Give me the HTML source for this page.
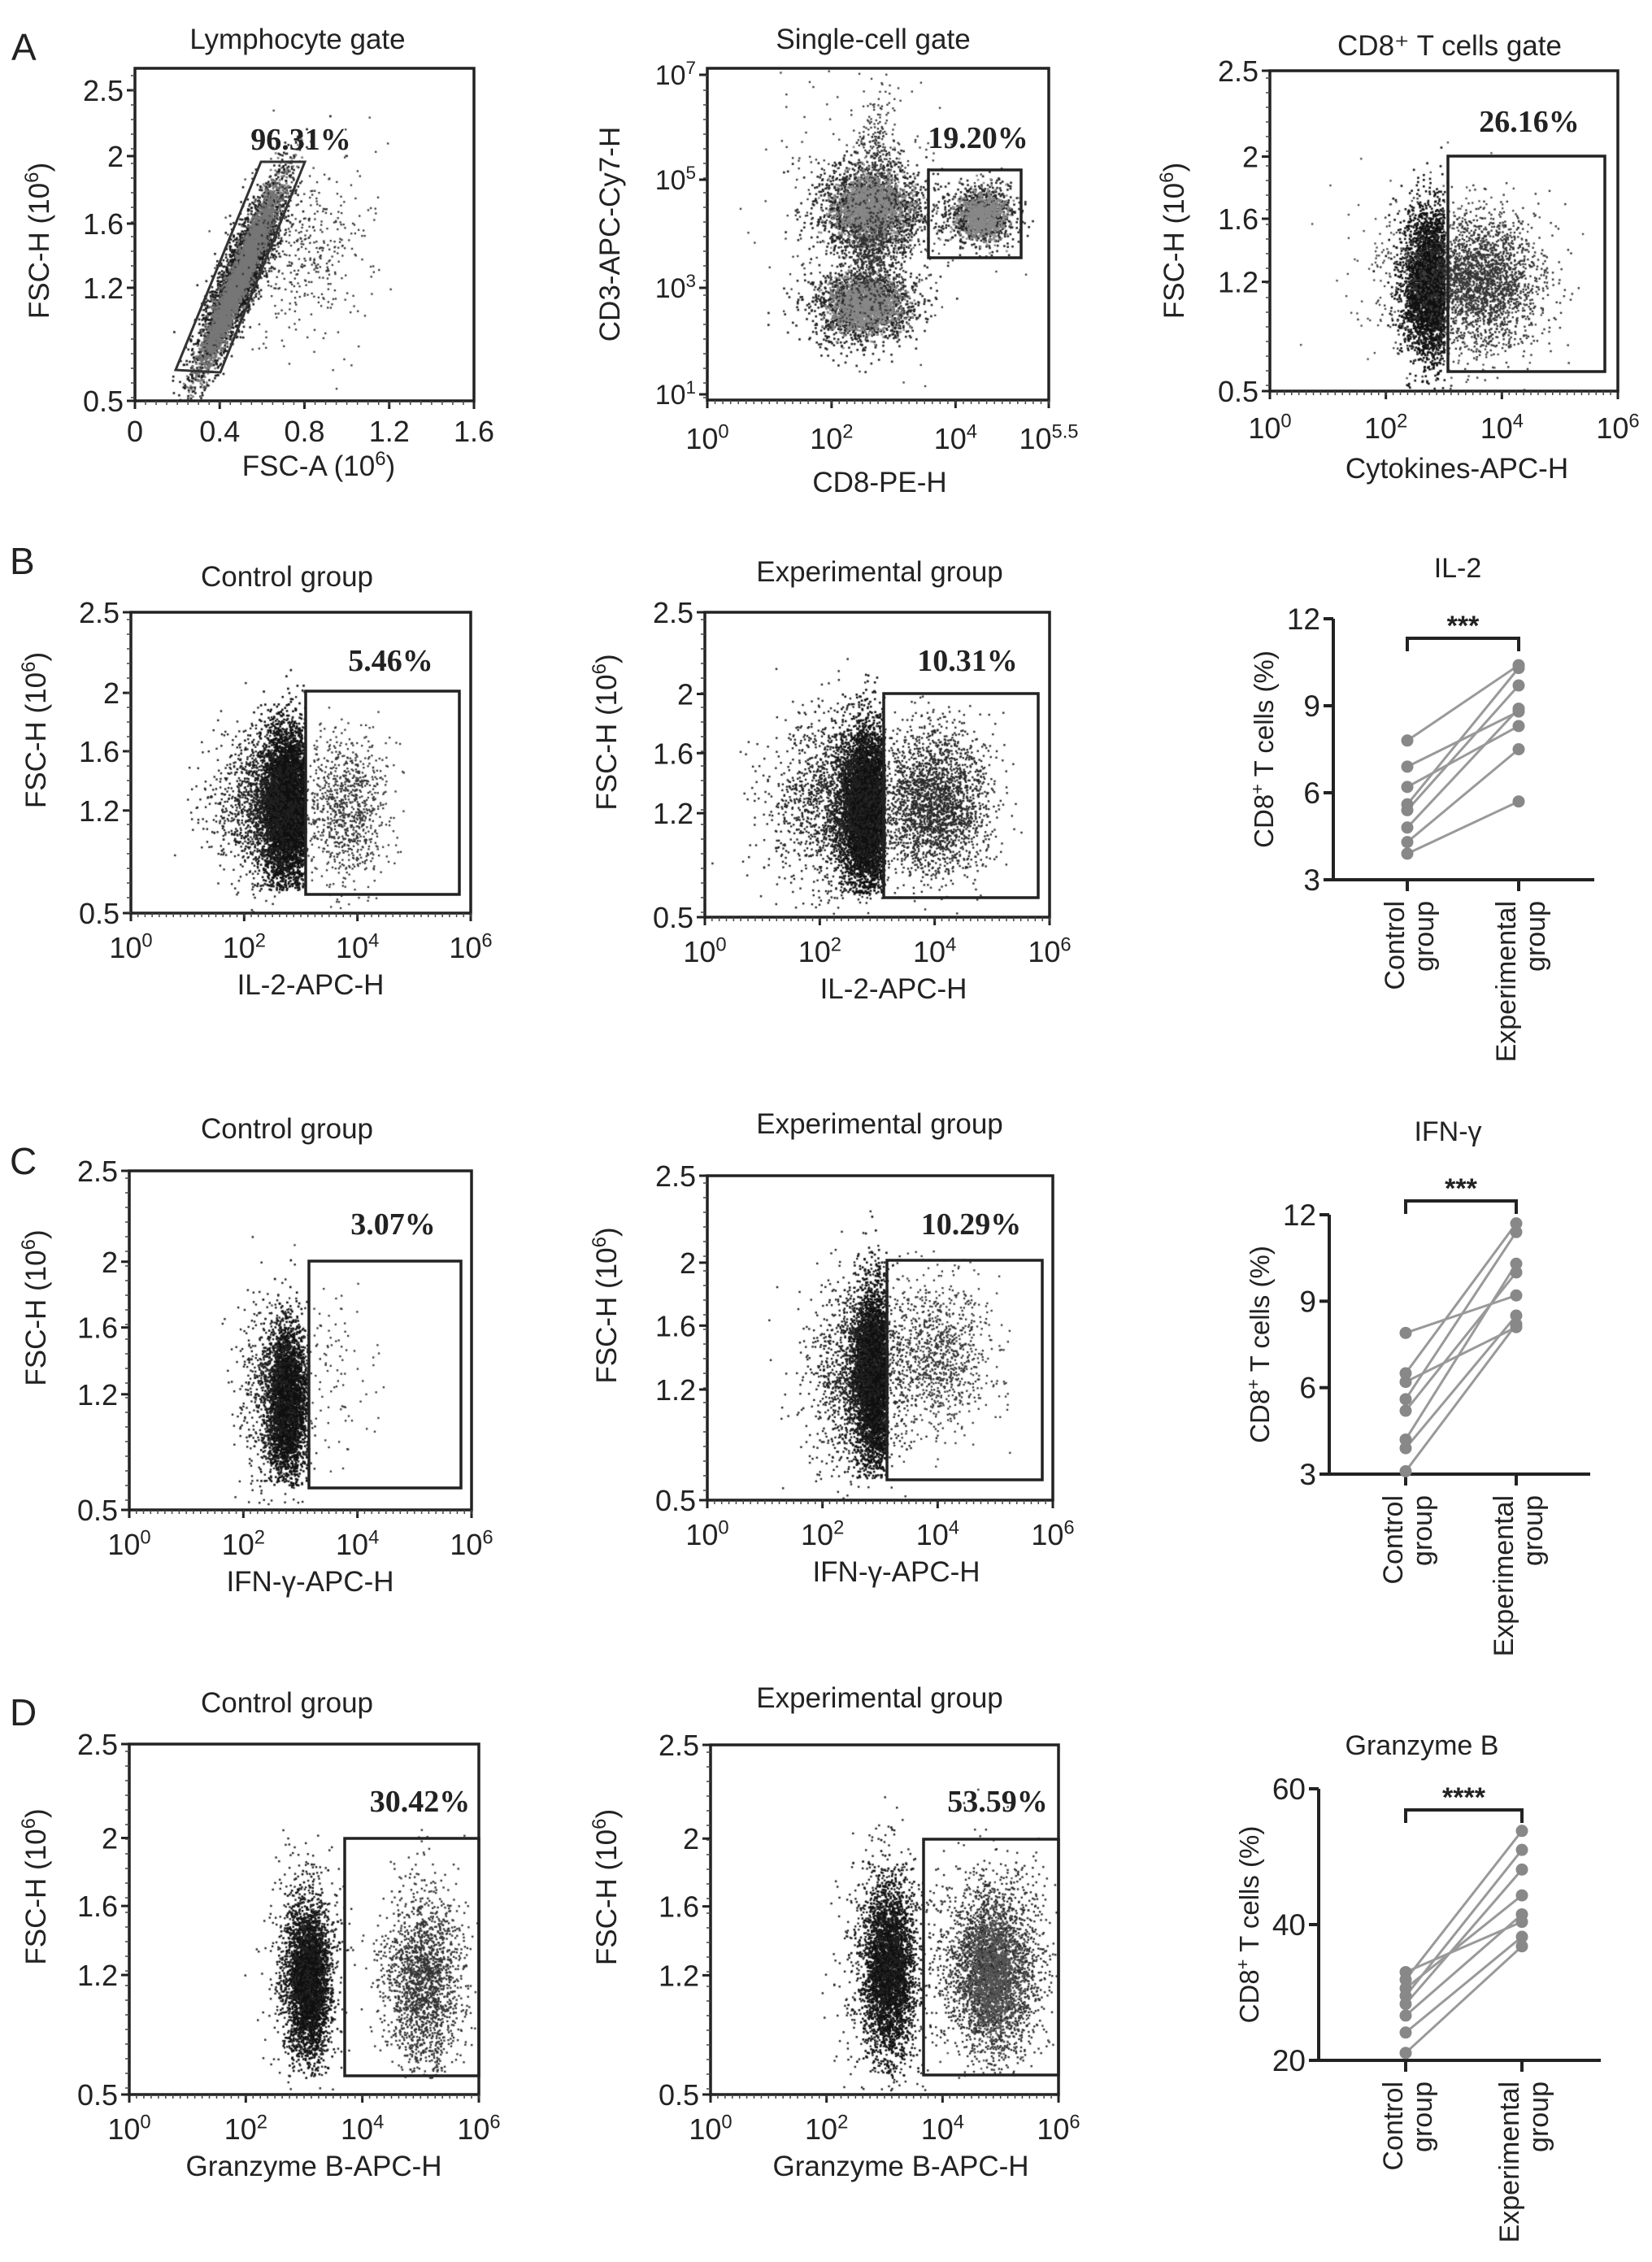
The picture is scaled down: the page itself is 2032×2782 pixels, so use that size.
<!DOCTYPE html>
<html><head><meta charset="utf-8"><style>
html,body{margin:0;padding:0;background:#fff;}
#wrap{position:relative;width:2032px;height:2782px;overflow:hidden;}
canvas,svg{position:absolute;left:0;top:0;}
text{font-family:"Liberation Sans",sans-serif;fill:#222;}
.pct{font-family:"Liberation Serif",serif;font-weight:bold;font-size:38px;fill:#222;}
</style></head><body>
<div id="wrap">
<canvas id="cv" width="2032" height="2782"></canvas>
<svg id="sv" width="2032" height="2782" viewBox="0 0 2032 2782" xmlns="http://www.w3.org/2000/svg"></svg>
</div>
<script>
// ---- paired chart data (control vs experimental, % CD8+ T cells) ----
const il2Control = [7.8, 6.9, 6.2, 5.6, 5.4, 4.8, 4.3, 3.9];
const il2Experimental = [10.4, 8.8, 8.3, 10.3, 9.7, 8.9, 7.5, 5.7];
const ifnControl = [7.9, 6.5, 6.2, 5.6, 5.2, 4.2, 3.9, 3.1];
const ifnExperimental = [9.2, 11.7, 8.1, 11.4, 10.0, 10.3, 8.5, 8.2];
const gzbControl = [33.0, 31.9, 30.6, 29.5, 28.3, 26.6, 24.1, 21.1];
const gzbExperimental = [40.4, 53.8, 44.3, 51.0, 48.1, 41.5, 38.2, 36.8];
const il2Ticks = [3, 6, 9, 12];
const ifnTicks = [3, 6, 9, 12];
const gzbTicks = [20, 40, 60];
const groupLabels = ["Control group", "Experimental group"];
const fscTickLabels = ["2.5", "2", "1.6", "1.2", "0.5"];
const fscTickValues = [2.5, 2.0, 1.6, 1.2, 0.5];
const logTickExps = ["0", "2", "4", "6"];
const pctLabels = ["96.31%", "19.20%", "26.16%", "5.46%", "10.31%", "3.07%", "10.29%", "30.42%", "53.59%"];

const NS = "http://www.w3.org/2000/svg";
const svg = document.getElementById('sv');
const ctx = document.getElementById('cv').getContext('2d');
function el(tag, attrs, parent, txt){
  const e = document.createElementNS(NS, tag);
  for (const k in attrs) e.setAttribute(k, attrs[k]);
  if (txt !== undefined) e.textContent = txt;
  (parent || svg).appendChild(e);
  return e;
}
let seed = 12345;
function rnd(){ seed = (seed * 1664525 + 1013904223) % 4294967296; return seed / 4294967296; }
function gauss(){ let u = 0, v = 0; while(!u) u = rnd(); v = rnd(); return Math.sqrt(-2*Math.log(u))*Math.cos(2*Math.PI*v); }

const fscFrac = [0, 0.268, 0.462, 0.659, 1];
function fscY(v, box){
  for (let i = 0; i < fscTickValues.length - 1; i++){
    const a = fscTickValues[i], b = fscTickValues[i+1];
    if (v <= a && v >= b){ const f = fscFrac[i] + (a - v)/(a - b)*(fscFrac[i+1]-fscFrac[i]); return box.y0 + f*(box.y1-box.y0); }
  }
  return box.y1;
}

function supText(g, x, y, base, exp, anchor, size, name){
  const t = el('text', {x:x, y:y, 'text-anchor':anchor, 'font-size':size}, g);
  
  
  el('tspan', {}, t, base);
  el('tspan', {dy: -size*0.38, 'font-size': size*0.66}, t, exp);
  return t;
}

function flowPanel(c){
  const g = el('g', {});
  
  
  const b = c.box;
  ctx.save();
  ctx.beginPath(); ctx.rect(b.x0, b.y0, b.x1-b.x0, b.y1-b.y0); ctx.clip();
  c.blobs.forEach(bl => {
    const [cx, cy, sx, sy, n, col, sz, rot, xmax, ymax] = bl;
    ctx.fillStyle = col;
    const r = rot || 0;
    let drawn = 0, guard = 0;
    while (drawn < n && guard < n*6){
      guard++;
      let dx = gauss()*sx, dy = gauss()*sy;
      const X = cx + dx*Math.cos(r) - dy*Math.sin(r);
      const Y = cy + dx*Math.sin(r) + dy*Math.cos(r);
      if (xmax !== undefined && X > xmax) continue;
      if (ymax !== undefined && Y > ymax) continue;
      drawn++;
      const px = b.x0 + X*(b.x1-b.x0), py = b.y0 + Y*(b.y1-b.y0);
      ctx.fillRect(px, py, sz||2.6, sz||2.6);
    }
  });
  ctx.restore();
  const fr = el('rect', {x:b.x0, y:b.y0, width:b.x1-b.x0, height:b.y1-b.y0, fill:'none', stroke:'#222', 'stroke-width':3.5}, g);
  
  
  c.yt.forEach((t) => {
    const y = t.y;
    el('line', {x1:b.x0-10, x2:b.x0, y1:y, y2:y, stroke:'#222', 'stroke-width':3}, g);
    if (t.exp !== undefined){
      supText(g, b.x0-14, y+12, '10', t.exp, 'end', 34, 'y-tick-label');
    } else {
      const tt = el('text', {x:b.x0-14, y:y+13, 'text-anchor':'end', 'font-size':36}, g, t.label);
      
      
    }
  });
  for (let y = b.y0 + 9; y < b.y1; y += 18) el('line', {x1:b.x0-5, x2:b.x0, y1:y, y2:y, stroke:'#444', 'stroke-width':1.5}, g);
  c.xt.forEach(t => {
    const x = b.x0 + t.f*(b.x1-b.x0);
    el('line', {x1:x, x2:x, y1:b.y1, y2:b.y1+10, stroke:'#222', 'stroke-width':3}, g);
    if (t.exp !== undefined) supText(g, x, b.y1+(c.tickDy||55), '10', t.exp, 'middle', 36, 'x-tick-label');
    else {
      const tt = el('text', {x:x, y:b.y1+(c.tickDy||55), 'text-anchor':'middle', 'font-size':36}, g, t.label);
      
      
    }
  });
  const step = (b.x1-b.x0)/(c.minorN||40);
  for (let x = b.x0 + step; x < b.x1; x += step) el('line', {x1:x, x2:x, y1:b.y1, y2:b.y1+5, stroke:'#444', 'stroke-width':1.5}, g);
  let gate;
  if (c.poly) gate = el('polygon', {points:c.poly, fill:'none', stroke:'#333', 'stroke-width':3}, g);
  else gate = el('rect', {x:c.gate[0], y:c.gate[1], width:c.gate[2]-c.gate[0], height:c.gate[3]-c.gate[1], fill:'none', stroke:'#222', 'stroke-width':3.5}, g);
  
  
  const p = el('text', {x:c.pct[1], y:c.pct[2], 'text-anchor':'middle', class:'pct'}, g, c.pct[0]);
  
  
  const ti = el('text', {x:c.title[1], y:c.title[2], 'text-anchor':'middle', 'font-size':35}, g, c.title[0]);
  
  
  const xl = el('text', {x:c.xl[1], y:c.xl[2], 'text-anchor':'middle', 'font-size':35}, g);
  
  
  if (c.xl[3]) { el('tspan', {}, xl, c.xl[0]); el('tspan', {dy:-13, 'font-size':24}, xl, '6'); el('tspan', {dy:13}, xl, ')'); }
  else xl.textContent = c.xl[0];
  const yl = el('text', {x:0, y:0, 'text-anchor':'middle', 'font-size':35, transform:`translate(${c.yl[1]},${c.yl[2]}) rotate(-90)`}, g);
  
  
  if (c.yl[3]) { el('tspan', {}, yl, c.yl[0]); el('tspan', {dy:-13, 'font-size':24}, yl, '6'); el('tspan', {dy:13}, yl, ')'); }
  else yl.textContent = c.yl[0];
}

function fscTicks(box){
  return fscTickLabels.map((l, i) => ({label:l, y: fscY(fscTickValues[i], box)}));
}
function logX(){ return logTickExps.map((e, i) => ({exp:e, f:i/(logTickExps.length-1)})); }

[['A',14,74],['B',12,706],['C',12,1444],['D',12,2122]].forEach(a => {
  const t = el('text', {x:a[1], y:a[2], 'font-size':46}, svg, a[0]);
  
  
});

// ---- Row A ----
let bx = {x0:166, x1:583, y0:84, y1:493};
flowPanel({name:'lymphocyte-gate-plot', box:bx, tickDy:50,
  yt: (()=>{const f=[0.066,0.264,0.467,0.66,1]; return fscTickLabels.map((l,i)=>({label:l, y:bx.y0+f[i]*(bx.y1-bx.y0)}));})(),
  xt: ['0','0.4','0.8','1.2','1.6'].map((l,i)=>({label:l, f:i/4})), minorN:32,
  blobs:[[0.31,0.62,0.15,0.028,3500,'#1a1a1a',2.6,-1.18],[0.31,0.62,0.14,0.016,3500,'#777',2.6,-1.18],[0.50,0.55,0.10,0.13,450,'#333',2.3,0]],
  poly:'216,455 321,199 375,199 271,458', pct:[pctLabels[0],370,184], title:['Lymphocyte gate',366,60],
  xl:['FSC-A (10',392,585,true], yl:['FSC-H (10',60,296,true]});
bx = {x0:870, x1:1290, y0:84, y1:492};
flowPanel({name:'single-cell-gate-plot', box:bx,
  yt:[{exp:'7',y:92},{exp:'5',y:221},{exp:'3',y:354},{exp:'1',y:485}],
  xt:[{exp:'0',f:0},{exp:'2',f:0.364},{exp:'4',f:0.727},{exp:'5.5',f:1}], minorN:44, tickDy:60,
  blobs:[[0.48,0.42,0.08,0.07,1800,'#222',2.6],[0.48,0.42,0.05,0.05,1600,'#888',2.6],[0.80,0.44,0.05,0.045,900,'#222',2.6],[0.80,0.44,0.035,0.035,800,'#888',2.6],
         [0.46,0.71,0.08,0.06,1500,'#222',2.6],[0.46,0.71,0.05,0.04,1300,'#888',2.6],[0.48,0.56,0.04,0.08,400,'#333',2.4],[0.45,0.45,0.14,0.2,300,'#333',2.3],[0.5,0.22,0.03,0.08,160,'#333',2.3]],
  gate:[1142,209,1256,317], pct:[pctLabels[1],1203,182], title:['Single-cell gate',1074,60],
  xl:['CD8-PE-H',1082,605], yl:['CD3-APC-Cy7-H',762,288]});
bx = {x0:1562, x1:1990, y0:87, y1:481};
flowPanel({name:'cd8-t-cells-gate-plot', box:bx, yt:fscTicks(bx), xt:logX(), minorN:48, tickDy:58,
  blobs:[[0.46,0.66,0.04,0.12,3200,'#111',2.6,0,0.5],[0.6,0.66,0.09,0.1,2200,'#333',2.4],[0.5,0.64,0.14,0.14,500,'#444',2.3]],
  gate:[1781,192,1974,457], pct:[pctLabels[2],1881,162], title:['CD8\u207A T cells gate',1783,68],
  xl:['Cytokines-APC-H',1792,588], yl:['FSC-H (10',1456,296,true]});

// ---- Rows B, C, D flow plots ----
const rows = [
  {name:'il2', y0:753, y1:1123, y0b:753, y1b:1128, xlab:'IL-2-APC-H', tY:721, pctY:825,
   c:{x0:161,x1:579,gate:[376,850,565,1100],pct:pctLabels[3],blobs:[[0.46,0.64,0.04,0.13,5000,'#111',2.6,0,0.51,0.92],[0.40,0.64,0.08,0.12,1400,'#222',2.4,0,0.51],[0.63,0.66,0.06,0.12,900,'#333',2.3]]},
   e:{x0:867,x1:1291,gate:[1087,853,1277,1104],pct:pctLabels[4],blobs:[[0.47,0.64,0.04,0.13,5000,'#111',2.6,0,0.52,0.92],[0.40,0.62,0.1,0.14,1800,'#222',2.4,0,0.52],[0.66,0.62,0.08,0.12,2400,'#2a2a2a',2.4]]}},
  {name:'ifn-gamma', y0:1440, y1:1857, y0b:1446, y1b:1845, xlab:'IFN-\u03B3-APC-H', tY:1400, pctY:1518,
   c:{x0:159,x1:580,gate:[380,1551,567,1830],pct:pctLabels[5],blobs:[[0.46,0.68,0.03,0.11,3000,'#111',2.6,0,0.52,0.93],[0.42,0.65,0.05,0.13,800,'#222',2.4],[0.56,0.6,0.08,0.12,120,'#333',2.3]]},
   e:{x0:870,x1:1295,gate:[1091,1550,1282,1820],pct:pctLabels[6],blobs:[[0.48,0.62,0.03,0.14,3800,'#111',2.6,0,0.52,0.93],[0.43,0.62,0.07,0.15,1400,'#222',2.4],[0.66,0.55,0.08,0.12,1000,'#333',2.3]]}},
  {name:'granzyme-b', y0:2145, y1:2576, y0b:2146, y1b:2576, xlab:'Granzyme B-APC-H', tY:2106, pctY:2228,
   c:{x0:159,x1:589,gate:[424,2261,589,2553],pct:pctLabels[7],blobs:[[0.51,0.68,0.03,0.11,3000,'#111',2.6,0,undefined,0.95],[0.5,0.64,0.05,0.15,800,'#222',2.4],[0.84,0.68,0.055,0.13,1800,'#333',2.4,0,undefined,0.95]]},
   e:{x0:874,x1:1302,gate:[1136,2262,1302,2552],pct:pctLabels[8],blobs:[[0.51,0.64,0.035,0.12,2800,'#111',2.6,0,undefined,0.95],[0.5,0.62,0.06,0.16,1000,'#222',2.4],[0.81,0.64,0.07,0.13,2600,'#2c2c2c',2.4,0,undefined,0.95],[0.81,0.66,0.04,0.09,1200,'#555',2.4]]}}
];
rows.forEach(r => {
  let b = {x0:r.c.x0, x1:r.c.x1, y0:r.y0, y1:r.y1};
  flowPanel({name:r.name+'-control-flow-plot', box:b, yt:fscTicks(b), xt:logX(), minorN:48, blobs:r.c.blobs,
    gate:r.c.gate, pct:[r.c.pct, (r.c.gate[0]+r.c.gate[2])/2+10, r.pctY], title:['Control group',353,r.tY],
    xl:[r.xlab,(b.x0+b.x1)/2+12,b.y1+100], yl:['FSC-H (10',56,(b.y0+b.y1)/2-40,true]});
  b = {x0:r.e.x0, x1:r.e.x1, y0:r.y0b, y1:r.y1b};
  flowPanel({name:r.name+'-experimental-flow-plot', box:b, yt:fscTicks(b), xt:logX(), minorN:48, blobs:r.e.blobs,
    gate:r.e.gate, pct:[r.e.pct, (r.e.gate[0]+r.e.gate[2])/2+8, r.pctY], title:['Experimental group',1082,r.tY-6],
    xl:[r.xlab,(b.x0+b.x1)/2+20,b.y1+100], yl:['FSC-H (10',758,(b.y0+b.y1)/2-40,true]});
});

// ---- Paired dot charts ----
function pairChart(c){
  const g = el('g', {});
  
  
  const lo = c.ticks[0], hi = c.ticks[c.ticks.length-1];
  const Y = v => c.yb - (v - lo)/(hi - lo)*(c.yb - c.yt);
  const X = i => i === 0 ? c.cx : c.ex;
  el('line', {x1:c.ax, x2:c.ax, y1:c.yt, y2:c.yb, stroke:'#222', 'stroke-width':4}, g);
  el('line', {x1:c.ax, x2:c.xend, y1:c.yb, y2:c.yb, stroke:'#222', 'stroke-width':4}, g);
  c.ticks.forEach(t => {
    el('line', {x1:c.ax-12, x2:c.ax, y1:Y(t), y2:Y(t), stroke:'#222', 'stroke-width':4}, g);
    const tl = el('text', {x:c.ax-16, y:Y(t)+13, 'text-anchor':'end', 'font-size':37}, g, String(t));
    
    
  });
  [c.cx, c.ex].forEach(x => el('line', {x1:x, x2:x, y1:c.yb, y2:c.yb+14, stroke:'#222', 'stroke-width':4}, g));
  c.ctrl.forEach((v, i) => {
    const ln = el('line', {x1:X(0), y1:Y(v), x2:X(1), y2:Y(c.exp[i]), stroke:'#999', 'stroke-width':3}, g);
    
    
  });
  c.ctrl.forEach((v, i) => {
    const d1 = el('circle', {cx:X(0), cy:Y(v), r:7.5, fill:'#888'}, g);
    
    
    const d2 = el('circle', {cx:X(1), cy:Y(c.exp[i]), r:7.5, fill:'#888'}, g);
    
    
  });
  const br = el('path', {d:`M${c.cx},${c.br+16} V${c.br} H${c.ex} V${c.br+16}`, fill:'none', stroke:'#222', 'stroke-width':4}, g);
  
  
  const st = el('text', {x:(c.cx+c.ex)/2, y:c.br-4, 'text-anchor':'middle', 'font-size':34, 'font-weight':'bold'}, g, c.stars);
  
  
  const ti = el('text', {x:c.tx, y:c.ty, 'text-anchor':'middle', 'font-size':34}, g, c.title);
  
  
  const yl = el('text', {x:0, y:0, 'text-anchor':'middle', 'font-size':33, transform:`translate(${c.ax-74},${(c.yt+c.yb)/2}) rotate(-90)`}, g);
  
  
  el('tspan', {}, yl, 'CD8'); el('tspan', {dy:-12, 'font-size':22}, yl, '+'); el('tspan', {dy:12}, yl, ' T cells (%)');
  [[c.cx, groupLabels[0]], [c.ex, groupLabels[1]]].forEach(([x, lab]) => {
    const parts = lab.split(' ');
    const t = el('text', {x:0, y:0, 'text-anchor':'end', 'font-size':34, transform:`translate(${x},${c.yb+26}) rotate(-90)`}, g);
    
    
    el('tspan', {x:0, dy:-4}, t, parts[0]);
    el('tspan', {x:0, dy:36}, t, parts[1]);
  });
}
pairChart({name:'il2-paired-chart', ctrl:il2Control, exp:il2Experimental, ticks:il2Ticks, ax:1640, xend:1961, yt:761, yb:1082, cx:1731, ex:1868, br:785, stars:'***', title:'IL-2', tx:1793, ty:710});
pairChart({name:'ifn-gamma-paired-chart', ctrl:ifnControl, exp:ifnExperimental, ticks:ifnTicks, ax:1635, xend:1956, yt:1494, yb:1813, cx:1729, ex:1865, br:1477, stars:'***', title:'IFN-\u03B3', tx:1781, ty:1403});
pairChart({name:'granzyme-b-paired-chart', ctrl:gzbControl, exp:gzbExperimental, ticks:gzbTicks, ax:1622, xend:1969, yt:2200, yb:2534, cx:1729, ex:1872, br:2226, stars:'****', title:'Granzyme B', tx:1749, ty:2158});
</script>
</body></html>
